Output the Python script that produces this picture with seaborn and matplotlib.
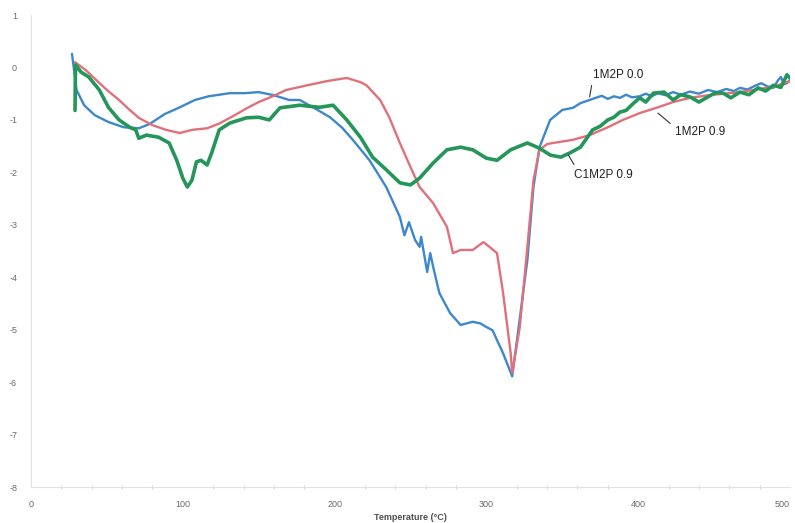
import matplotlib
matplotlib.use("Agg")
import matplotlib.pyplot as plt
import seaborn as sns
import pandas as pd
from matplotlib.ticker import MultipleLocator

# Heat-flow curves, temperature in °C
temp_a = [27, 30, 35, 42, 51, 61, 71, 78, 88, 98, 108, 117, 131, 141, 150, 160, 170, 177,
          187, 197, 205, 212, 223, 234, 243, 246, 249, 253, 256, 257, 261, 263, 265, 269,
          276, 283, 291, 296, 300, 304, 311, 317, 321, 327, 331, 335, 342, 350, 357, 362,
          368, 372, 376, 380, 384, 388, 392, 396, 401, 405, 409, 413, 418, 423, 428, 434,
          440, 446, 452, 458, 463, 467, 472, 477, 481, 485, 489, 492, 494, 496, 498, 500]
flow_a = [0.26, -0.43, -0.72, -0.91, -1.04, -1.14, -1.16, -1.08, -0.89, -0.76, -0.62, -0.55,
          -0.49, -0.49, -0.47, -0.53, -0.62, -0.62, -0.78, -0.95, -1.15, -1.38, -1.77, -2.28,
          -2.85, -3.20, -2.95, -3.29, -3.42, -3.23, -3.90, -3.54, -3.81, -4.30, -4.68, -4.91,
          -4.85, -4.88, -4.95, -5.01, -5.45, -5.89, -5.01, -3.67, -2.28, -1.52, -1.00, -0.81,
          -0.77, -0.68, -0.62, -0.58, -0.54, -0.60, -0.55, -0.58, -0.52, -0.57, -0.55, -0.50,
          -0.55, -0.49, -0.53, -0.47, -0.52, -0.46, -0.50, -0.43, -0.47, -0.41, -0.45, -0.39,
          -0.42, -0.35, -0.30, -0.36, -0.39, -0.25, -0.18, -0.32, -0.30, -0.24]

temp_b = [29, 36, 43, 50, 58, 65, 71, 80, 89, 98, 106, 116, 124, 133, 142, 150, 160, 168,
          182, 195, 208, 217, 221, 230, 236, 243, 250, 256, 265, 274, 278, 283, 291, 298,
          302, 307, 311, 316, 317, 322, 327, 331, 335, 340, 344, 357, 368, 380, 390, 401,
          413, 423, 434, 446, 467, 489, 498, 500]
flow_b = [0.10, -0.05, -0.24, -0.43, -0.62, -0.81, -0.96, -1.10, -1.19, -1.25, -1.19, -1.16,
          -1.07, -0.93, -0.78, -0.66, -0.54, -0.43, -0.34, -0.26, -0.20, -0.28, -0.34, -0.62,
          -0.95, -1.44, -1.90, -2.28, -2.59, -3.04, -3.54, -3.48, -3.48, -3.33, -3.42, -3.54,
          -4.30, -5.45, -5.83, -4.95, -3.42, -2.15, -1.57, -1.46, -1.44, -1.38, -1.29, -1.14,
          -1.00, -0.87, -0.76, -0.66, -0.58, -0.53, -0.47, -0.37, -0.28, -0.26]

temp_c = [29, 29.3, 33, 38, 45, 51, 58, 65, 69, 71, 76, 84, 91, 96, 100, 103, 106, 109, 112,
          116, 119, 124, 131, 142, 150, 157, 164, 177, 190, 199, 208, 217, 225, 234, 243, 250,
          256, 265, 274, 283, 291, 300, 307, 316, 327, 335, 342, 349, 355, 362, 370, 375, 380,
          384, 388, 392, 397, 401, 405, 410, 417, 423, 428, 434, 440, 446, 451, 456, 461, 467,
          473, 479, 484, 489, 494, 498, 500]
flow_c = [-0.82, 0.05, -0.09, -0.18, -0.43, -0.76, -1.00, -1.14, -1.19, -1.35, -1.29, -1.33,
          -1.44, -1.77, -2.11, -2.28, -2.15, -1.80, -1.77, -1.86, -1.63, -1.19, -1.06, -0.96,
          -0.95, -1.00, -0.77, -0.72, -0.76, -0.72, -1.00, -1.33, -1.71, -1.95, -2.20, -2.24,
          -2.11, -1.82, -1.57, -1.52, -1.57, -1.73, -1.77, -1.57, -1.44, -1.54, -1.67, -1.71,
          -1.63, -1.52, -1.19, -1.12, -1.00, -0.95, -0.85, -0.82, -0.68, -0.58, -0.66, -0.49,
          -0.47, -0.62, -0.52, -0.56, -0.66, -0.56, -0.48, -0.49, -0.58, -0.47, -0.52, -0.39,
          -0.45, -0.34, -0.38, -0.14, -0.20]

series_names = ["1M2P 0.0", "1M2P 0.9", "C1M2P 0.9"]
series_colors = ["#3d88cc", "#e0707a", "#24965a"]
series_widths = [1.7, 1.7, 2.6]

x_ticks = [0, 100, 200, 300, 400, 500]
y_ticks = [1, 0, -1, -2, -3, -4, -5, -6, -7, -8]

frames = []
for name, t, f in zip(series_names, [temp_a, temp_b, temp_c], [flow_a, flow_b, flow_c]):
    frames.append(pd.DataFrame({"Temperature": t, "Flow": f, "Sample": name}))
df = pd.concat(frames, ignore_index=True)

sns.set_theme(style="white")
plt.rcParams["font.family"] = ["Liberation Sans", "DejaVu Sans"]
plt.rcParams["axes.unicode_minus"] = False

fig = plt.figure(figsize=(7.95, 5.23), dpi=100)
ax = fig.add_axes([0.039, 0.0688, 0.9547, 0.9025])

for name, color, lw in zip(series_names, series_colors, series_widths):
    sns.lineplot(data=df[df["Sample"] == name], x="Temperature", y="Flow",
                 color=color, linewidth=lw, sort=False, estimator=None, ax=ax)

ax.set_xlim(0, 500)
ax.set_ylim(-8, 1)
ax.set_xticks(x_ticks)
ax.set_xticklabels([str(v) for v in x_ticks])
ax.set_yticks(y_ticks)
ax.set_yticklabels([str(v) for v in y_ticks])
ax.xaxis.set_minor_locator(MultipleLocator(20))

for side in ["top", "right"]:
    ax.spines[side].set_visible(False)
for side in ["left", "bottom"]:
    ax.spines[side].set_color("#e2e2e2")
    ax.spines[side].set_linewidth(0.8)

ax.tick_params(axis="both", which="major", labelsize=6.5, labelcolor="#6a6a6a",
               color="#d8d8d8", length=3, width=0.8)
ax.tick_params(axis="x", which="major", direction="inout", length=4, pad=7)
ax.tick_params(axis="y", which="major", direction="out", length=2, pad=8)
ax.tick_params(axis="x", which="minor", bottom=True, direction="inout", length=3,
               width=0.8, color="#d8d8d8")
# the last tick label sits at the right edge of the figure
ax.get_xticklabels()[-1].set_horizontalalignment("right")

ax.set_xlabel("Temperature (°C)", fontsize=6.5, fontweight="bold", color="#505050",
              labelpad=3)
ax.set_ylabel("")

label_style = dict(fontsize=8.5, color="#222222", ha="left", va="center")
ax.annotate(series_names[0], xy=(368, -0.56), xytext=(370, -0.14),
            arrowprops=dict(arrowstyle="-", color="#333333", lw=0.8,
                            shrinkA=1, shrinkB=0, relpos=(0.0, 0.1)), **label_style)
ax.annotate(series_names[1], xy=(413, -0.87), xytext=(424, -1.23),
            arrowprops=dict(arrowstyle="-", color="#333333", lw=0.8,
                            shrinkA=1, shrinkB=0, relpos=(0.0, 0.9)), **label_style)
ax.annotate(series_names[2], xy=(354, -1.67), xytext=(358, -2.05),
            arrowprops=dict(arrowstyle="-", color="#333333", lw=0.8,
                            shrinkA=1, shrinkB=0, relpos=(0.05, 0.9)), **label_style)

fig.savefig("out.png", dpi=100)
